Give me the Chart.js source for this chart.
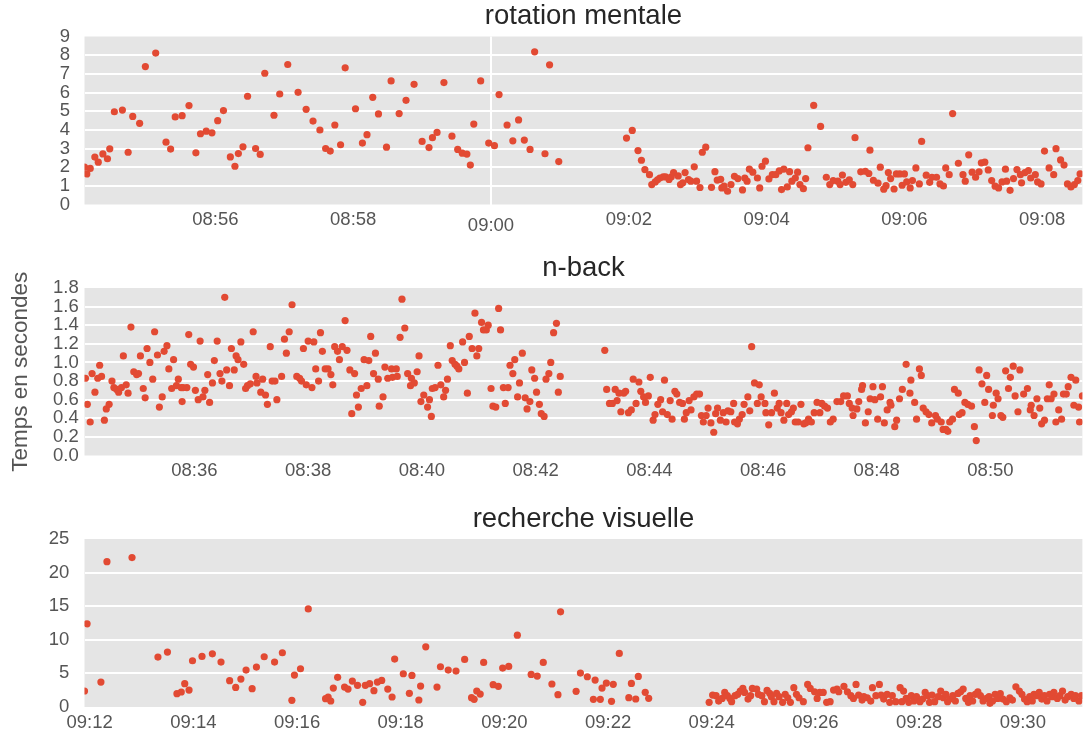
<!DOCTYPE html>
<html>
<head>
<meta charset="utf-8">
<script src="https://cdn.jsdelivr.net/npm/chart.js@4.4.1/dist/chart.umd.min.js"></script>
<style>
  html, body { margin: 0; padding: 0; background: #ffffff; }
  #wrap { position: relative; width: 1086px; height: 734px; overflow: hidden; }
  canvas { position: absolute; left: 0; }
</style>
</head>
<body>
<div id="wrap">
  <canvas id="c1" width="1086" height="245" style="top:0px"></canvas>
  <canvas id="c2" width="1086" height="250" style="top:245px"></canvas>
  <canvas id="c3" width="1086" height="239" style="top:495px"></canvas>
</div>
<script>
// ---- Panel titles and axis label ----
const panelTitles = ['rotation mentale', 'n-back', 'recherche visuelle'];
const yAxisLabel = 'Temps en secondes';

// ---- Session start times (seconds of the day) ----
const rotStart = 8 * 3600 + 54 * 60 + 6;     // 08:54:06
const nbackStart = 8 * 3600 + 34 * 60 + 4;   // 08:34:04
const rechStart = 9 * 3600 + 11 * 60 + 54;   // 09:11:54

// ---- Displayed time span of each panel (seconds after start) ----
const rotSpan = 869;
const nbackSpan = 1053;
const rechSpan = 1155;

// ---- Y axis limits ----
const rotYMax = 9, rotYStep = 1;
const nbackYMax = 1.8, nbackYStep = 0.2;
const rechYMax = 25, rechYStep = 5;

// ---- rotation mentale: trial time (s after start) and response time (s) ----
const rotSec = [0,2,5,9,12,16,20,22,26,33,38,42,48,53,62,71,75,79,85,91,97,101,106,111,116,121,127,131,134,138,
  142,149,153,157,165,170,177,186,193,199,205,210,214,218,223,227,236,242,246,251,256,263,267,274,280,287,294,300,
  303,307,313,320,325,329,333,336,339,345,352,357,361,368,373,378,383,388,392,401,405,413,
  472,477,482,485,488,492,494,497,499,501,504,506,509,511,513,517,519,521,523,526,528,531,533,536,538,541,546,549,
  551,554,555,557,560,563,566,569,573,575,577,579,582,586,588,590,593,596,599,602,605,607,609,612,614,616,619,621,
  623,626,628,630,635,641,646,649,652,656,658,660,663,666,669,671,676,680,683,684,687,691,693,696,698,700,702,705,
  707,710,712,714,716,719,721,724,727,729,733,736,738,742,745,748,750,753,756,761,765,767,770,773,776,779,781,784,
  787,790,793,796,799,802,803,806,809,812,815,816,819,822,824,828,830,833,836,840,844,846,850,853,856,859,862,865,867];
const rotVal = [2.00,1.64,1.93,2.54,2.27,2.71,2.45,2.98,4.97,5.06,2.80,4.72,4.35,7.39,8.11,3.34,2.97,4.69,4.76,5.30,
  2.77,3.79,3.93,3.84,4.49,5.03,2.55,2.05,2.73,3.09,5.80,3.00,2.68,7.03,4.78,5.92,7.50,6.01,5.10,4.47,3.99,3.00,2.86,
  4.26,3.20,7.32,5.13,3.29,3.74,5.74,4.85,3.07,6.62,4.87,5.58,6.44,3.38,3.05,3.58,3.86,6.53,3.66,2.95,2.75,2.70,2.11,
  4.31,6.62,3.29,3.15,5.89,4.26,3.41,4.53,3.45,2.95,8.18,2.72,7.48,2.30,
  3.56,3.97,2.89,2.37,1.87,1.60,1.07,1.21,1.32,1.42,1.48,1.48,1.34,1.48,1.71,1.53,1.07,1.16,1.71,1.34,1.25,2.02,1.25,
  0.91,2.80,3.07,0.92,1.76,1.31,1.35,0.89,0.98,0.71,1.07,1.51,1.39,0.78,1.42,1.25,1.89,1.73,1.42,0.89,2.05,2.32,1.37,
  1.60,1.60,1.80,0.80,1.89,0.94,1.76,1.25,1.42,1.73,1.07,0.85,1.39,3.04,5.31,4.18,1.46,1.07,1.28,1.25,1.07,1.58,1.19,
  1.32,1.07,3.58,1.75,1.78,1.66,2.91,1.30,1.14,2.00,0.82,1.01,1.71,1.39,0.83,1.64,1.64,1.03,1.64,1.21,0.89,1.28,1.96,
  1.10,3.38,1.57,1.19,1.46,1.46,1.10,0.99,1.96,1.60,4.87,2.21,1.60,1.25,2.66,1.73,1.46,1.75,2.23,2.27,1.85,1.28,0.98,
  0.89,1.21,1.89,1.25,0.76,1.39,1.87,1.60,1.16,1.71,1.82,1.42,1.60,1.21,1.10,2.86,1.96,1.60,2.99,2.39,2.11,1.10,0.94,
  1.07,1.28,1.64];

// ---- n-back ----
const nbackSec = [1,3,6,8,11,14,16,18,21,23,26,29,31,34,36,39,41,44,46,49,52,55,57,59,62,64,66,69,72,74,77,79,82,84,
  87,89,92,94,97,99,102,103,104,108,110,112,115,117,120,122,125,127,130,132,135,137,140,143,145,148,150,153,155,158,
  160,162,165,168,170,172,175,178,181,182,186,188,191,193,196,198,201,203,208,211,213,216,219,224,227,229,231,234,
  236,240,242,244,247,249,251,254,257,260,262,264,267,269,272,275,277,280,282,285,287,289,292,295,298,300,302,305,
  307,310,311,
  315,317,320,324,325,329,330,333,335,338,341,344,345,348,351,353,355,358,362,364,366,367,370,373,376,379,381,383,
  386,388,391,393,395,399,401,404,406,409,412,414,416,419,421,424,426,429,431,434,437,439,442,444,447,449,452,454,
  457,459,462,465,467,470,472,475,477,480,482,485,487,490,492,495,498,500,502,
  549,551,554,557,560,562,564,566,569,571,574,577,579,582,585,587,590,592,595,597,600,602,605,608,610,612,615,618,
  620,623,625,628,631,633,635,638,640,643,646,649,651,653,656,658,661,664,666,668,671,674,677,
  679,682,685,686,689,691,694,696,700,702,704,707,710,712,714,718,719,722,725,728,731,733,735,738,741,743,746,748,
  750,753,756,759,761,764,767,770,773,776,778,781,784,787,790,794,798,801,805,807,810,811,815,817,820,821,824,827,
  829,832,834,837,840,842,844,847,850,851,855,857,860,863,867,871,872,876,878,881,883,885,888,891,894,898,900,904,
  906,909,911,913,916,918,922,923,926,929,932,936,939,941,944,947,950,952,954,958,959,962,964,967,969,972,975,977,
  980,982,985,987,991,995,998,999,1002,1005,1008,1010,1013,1016,1018,1020,1023,1025,1028,1031,1033,1036,1038,1041,
  1044,1046,1049,1050,1053];
const nbackVal = [0.83,0.55,0.36,0.88,0.68,0.83,0.97,0.85,0.38,0.50,0.55,0.80,0.73,0.71,0.68,0.73,1.07,0.76,0.67,1.38,
  0.90,0.87,0.88,1.07,0.72,0.62,1.15,1.00,0.82,1.33,1.08,0.52,0.63,1.12,1.18,0.93,0.72,1.03,0.75,0.82,0.73,0.58,0.73,
  0.73,1.30,0.98,0.95,0.70,0.60,1.23,0.63,0.70,0.87,0.57,0.78,1.02,1.23,0.88,0.80,1.70,0.92,0.75,1.15,0.92,1.07,1.03,
  1.22,0.98,0.72,0.75,0.77,1.33,0.85,0.78,0.68,0.82,0.65,0.55,1.17,0.80,0.80,0.60,0.85,1.25,1.10,1.33,1.62,0.85,0.83,
  0.80,1.15,0.76,1.23,0.73,1.22,0.93,0.80,1.32,1.12,0.93,0.93,0.87,0.76,1.17,1.12,1.03,1.17,1.45,1.13,0.92,0.45,0.88,
  0.65,0.52,0.72,1.03,0.75,1.02,1.28,0.88,1.10,0.82,0.53,
  0.63,0.95,0.83,0.93,0.84,0.93,0.85,1.27,1.68,1.37,0.88,0.75,0.83,0.78,0.90,1.07,0.58,0.65,0.52,0.60,0.42,0.72,0.73,
  0.97,0.76,0.63,0.70,0.82,1.18,1.02,0.98,0.96,0.93,1.22,1.00,0.67,1.28,1.15,1.53,1.07,1.15,1.43,1.35,1.35,1.40,0.72,
  0.53,0.52,1.58,1.35,0.73,0.56,0.73,0.97,0.88,1.03,0.63,0.78,1.10,0.62,0.50,0.58,0.92,0.83,0.68,0.55,0.45,0.42,0.82,
  0.88,1.00,1.32,1.42,0.68,0.85,
  1.13,0.71,0.56,0.56,0.71,0.59,0.67,0.47,0.67,0.69,0.46,0.49,0.82,0.56,0.79,0.69,0.63,0.57,0.64,0.84,0.38,0.44,0.55,
  0.60,0.47,0.81,0.44,0.59,0.39,0.69,0.66,0.57,0.56,0.39,0.46,0.59,0.49,0.63,0.66,0.66,0.43,0.36,0.43,0.51,0.35,0.25,
  0.45,0.51,0.38,0.46,0.36,
  0.48,0.47,0.56,0.36,0.34,0.39,0.44,0.55,0.63,0.48,1.17,0.78,0.56,0.76,0.63,0.56,0.46,0.33,0.46,0.67,0.51,0.56,0.46,
  0.38,0.56,0.44,0.47,0.51,0.36,0.36,0.55,0.34,0.35,0.39,0.36,0.46,0.57,0.46,0.56,0.53,0.51,0.36,0.39,0.58,0.58,0.64,
  0.64,0.56,0.51,0.43,0.50,0.58,0.71,0.75,0.35,0.47,0.61,0.74,0.60,0.39,0.63,0.74,0.35,0.49,0.57,0.54,0.31,0.38,0.61,
  0.71,0.98,0.67,0.81,0.57,0.39,0.93,0.86,0.51,0.47,0.44,0.35,0.43,0.39,0.36,0.28,0.28,0.26,0.36,0.39,0.71,0.67,0.44,
  0.46,0.57,0.55,0.53,0.31,0.16,0.92,0.77,0.57,0.86,0.71,0.43,0.54,0.67,0.61,0.43,0.41,0.91,0.72,0.84,0.96,0.64,0.47,
  0.92,0.66,0.72,0.49,0.54,0.43,0.61,0.51,0.34,0.38,0.61,0.76,0.61,0.66,0.36,0.49,0.39,0.66,0.66,0.74,0.84,0.54,0.81,
  0.52,0.36,0.64];

// ---- recherche visuelle ----
const rechSec = [0,3,19,26,55,85,96,107,112,116,121,125,136,148,158,168,175,181,187,194,199,208,220,229,240,243,250,
  259,279,282,285,288,293,301,305,310,316,322,325,330,335,339,
  344,351,356,359,369,376,379,387,389,395,408,412,421,430,440,448,451,454,458,462,473,479,484,491,501,517,524,531,
  541,548,551,569,574,582,589,591,597,599,604,610,612,619,630,633,638,641,649,653,
  723,727,731,734,738,741,744,747,749,753,756,759,762,764,768,771,773,778,780,784,787,790,793,795,798,801,804,808,
  811,814,817,821,824,827,832,837,840,845,848,851,855,859,863,867,871,873,879,883,887,890,893,896,900,902,906,910,
  912,916,920,922,925,929,932,935,939,
  944,946,948,951,954,957,960,963,967,970,973,976,978,981,984,988,991,994,997,999,1002,1005,1008,1011,1014,1017,1020,
  1023,1025,1028,1031,1034,1037,1040,1044,1047,1048,1051,1054,1057,1060,1063,1067,1071,1074,1078,1082,1085,1088,
  1091,1094,1097,1099,1102,1105,1108,1111,1114,1117,1120,1122,1126,1129,1132,1135,1138,1142,1145,1147,1151,1154];
const rechVal = [2.38,12.38,3.71,21.63,22.23,7.43,8.17,1.98,2.23,3.47,2.52,6.88,7.52,7.92,6.68,3.91,2.92,4.16,5.50,
  2.72,5.94,7.48,6.68,8.07,0.99,4.75,5.69,14.60,1.24,1.49,0.89,2.82,4.41,2.97,2.67,3.86,3.22,0.69,3.22,3.47,2.43,3.71,
  3.96,2.67,1.49,7.13,4.95,2.03,4.70,1.04,3.12,8.96,2.97,5.99,5.50,5.35,7.08,1.39,1.14,2.38,1.93,6.63,3.32,3.07,5.79,
  6.04,10.69,4.85,4.60,6.63,3.42,1.83,14.16,2.33,5.05,4.50,1.14,4.01,1.14,2.82,3.56,0.84,3.37,7.97,1.39,3.51,1.19,
  4.55,2.18,1.29,
  0.69,1.78,1.68,0.88,1.28,2.17,1.68,1.28,0.79,1.68,1.88,2.37,2.77,2.17,1.18,1.68,2.77,2.67,1.88,1.68,0.79,2.47,2.03,
  1.53,0.79,2.03,1.53,0.69,1.88,1.38,0.69,2.87,1.88,1.38,0.79,3.36,2.77,2.27,1.28,2.17,2.17,0.69,0.79,2.52,2.67,2.27,
  3.07,2.27,1.68,1.28,3.36,1.78,1.03,1.53,1.38,0.88,2.87,1.68,3.36,1.78,1.18,1.88,0.69,1.68,0.79,
  2.87,0.79,2.37,1.28,0.69,1.68,0.89,1.53,0.79,1.18,2.17,1.68,0.69,1.78,0.79,1.53,2.37,1.38,1.88,0.79,1.18,1.68,0.89,
  2.02,2.27,2.67,1.28,0.69,1.68,0.89,1.88,2.27,1.68,0.89,1.28,1.53,0.54,0.89,1.88,1.28,1.98,1.18,0.79,1.38,1.03,3.01,
  2.37,1.88,1.18,0.79,1.53,0.89,1.88,1.68,2.17,1.18,1.68,0.89,1.88,1.53,2.17,1.28,1.68,2.37,1.03,1.53,1.88,1.28,1.68,
  0.89,1.68];

// ---- Styling ----
const MARK = '#e24a33';
const PANEL = '#e5e5e5';
const TICK_COLOR = '#555555';
const TITLE_COLOR = '#262626';
const FONT = "'Liberation Sans', Arial, Helvetica, sans-serif";
const TICK_SIZE = 18.5;

function clock(daySeconds) {
  const m = Math.round(daySeconds / 60);
  const hh = Math.floor(m / 60) % 24;
  const mm = m % 60;
  return String(hh).padStart(2, '0') + ':' + String(mm).padStart(2, '0');
}

// grey plotting panel behind grid and points
const panelBackground = {
  id: 'panelBackground',
  beforeDraw(chart) {
    const { ctx, chartArea: a } = chart;
    ctx.save();
    ctx.fillStyle = PANEL;
    ctx.fillRect(a.left, a.top, a.right - a.left, a.bottom - a.top);
    ctx.restore();
  }
};

function makePanel(canvasId, p) {
  // tick marks every two minutes, on even minutes
  const first = Math.ceil(p.start / 120) * 120;
  const xTicks = [];
  for (let t = first; t <= p.start + p.span; t += 120) xTicks.push(t - p.start);
  const isHour = v => ((p.start + v) % 3600) === 0;

  const points = p.sec.map((s, i) => ({ x: s, y: p.val[i] }));

  const yScale = {
    min: 0,
    max: p.ymax,
    afterFit: s => { s.width = 84.5; },
    border: { display: false },
    grid: {
      drawTicks: false,
      lineWidth: 2,
      color: c => (c.tick && c.tick.value > 1e-9 && c.tick.value < p.ymax - 1e-9) ? '#ffffff' : 'rgba(0,0,0,0)'
    },
    ticks: {
      stepSize: p.ystep,
      autoSkip: false,
      color: TICK_COLOR,
      padding: p.ypad,
      font: { family: FONT, size: TICK_SIZE },
      callback: v => p.fmt(v)
    }
  };
  if (p.ytitle) {
    yScale.title = {
      display: true,
      text: p.ytitle,
      color: TICK_COLOR,
      font: { family: FONT, size: 22.5 },
      padding: { top: 7, bottom: 0 }
    };
  }

  return new Chart(document.getElementById(canvasId), {
    type: 'scatter',
    data: {
      datasets: [{
        data: points,
        pointRadius: 3.6,
        pointHoverRadius: 3.6,
        backgroundColor: MARK,
        borderColor: MARK,
        borderWidth: 0,
        clip: 0
      }]
    },
    options: {
      responsive: false,
      animation: false,
      devicePixelRatio: 1,
      events: [],
      layout: { padding: 0 },
      plugins: {
        legend: { display: false },
        tooltip: { enabled: false },
        title: {
          display: true,
          fullSize: false,
          text: p.title,
          color: TITLE_COLOR,
          font: { family: FONT, size: 27.5, weight: 'normal', lineHeight: 1.2 },
          padding: { top: p.titleTop, bottom: 3.3 }
        }
      },
      scales: {
        x: {
          type: 'linear',
          min: 0,
          max: p.span,
          afterBuildTicks: s => { s.ticks = xTicks.map(v => ({ value: v })); },
          afterFit: s => { s.height = p.xh; },
          border: { display: false },
          grid: {
            drawTicks: false,
            lineWidth: 2,
            color: c => (c.tick && isHour(c.tick.value)) ? '#ffffff' : 'rgba(0,0,0,0)'
          },
          ticks: {
            autoSkip: false,
            maxRotation: 0,
            color: TICK_COLOR,
            padding: 4.5,
            // the hour mark sits a little lower than the minute marks
            font: c => ({ family: FONT, size: TICK_SIZE, lineHeight: (c.tick && isHour(c.tick.value)) ? 1.85 : 1.2 }),
            callback: v => clock(p.start + v)
          }
        },
        y: yScale
      }
    },
    plugins: [panelBackground]
  });
}

makePanel('c1', {
  title: panelTitles[0], start: rotStart, span: rotSpan, sec: rotSec, val: rotVal,
  ymax: rotYMax, ystep: rotYStep, fmt: v => String(v), ypad: 14.5,
  titleTop: 0.2, xh: 40.5
});
makePanel('c2', {
  title: panelTitles[1], start: nbackStart, span: nbackSpan, sec: nbackSec, val: nbackVal,
  ymax: nbackYMax, ystep: nbackYStep, fmt: v => v.toFixed(1), ypad: 5.8,
  titleTop: 6.7, xh: 39.5, ytitle: yAxisLabel
});
makePanel('c3', {
  title: panelTitles[2], start: rechStart, span: rechSpan, sec: rechSec, val: rechVal,
  ymax: rechYMax, ystep: rechYStep, fmt: v => String(v), ypad: 15.2,
  titleTop: 7.7, xh: 27
});
</script>
</body>
</html>
